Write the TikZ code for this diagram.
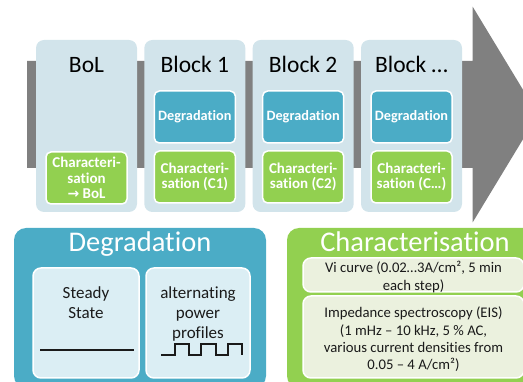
\documentclass[tikz,border=0pt]{standalone}
\usepackage{fontspec}
\setmainfont{Carlito}[Ligatures=NoCommon]
\newfontfamily\symfont{DejaVu Sans}
\definecolor{arrowgray}{HTML}{808080}
\definecolor{blockblue}{HTML}{D2E4EB}
\definecolor{degteal}{HTML}{4BACC6}
\definecolor{chargreen}{HTML}{92D050}
\definecolor{palecyan}{HTML}{DBEEF4}
\definecolor{palegreen}{HTML}{EBF1DE}
\definecolor{inktext}{HTML}{1A1A1A}
\tikzset{
  blockbox/.style={fill=blockblue, draw=none, rounded corners=8pt, inner sep=0pt,
    minimum width=101pt, minimum height=172pt},
  blocktitle/.style={anchor=base, inner sep=0pt, text=black, font=\fontsize{23.5}{26}\selectfont},
  smallbox/.style={draw=white, line width=1.5pt, rounded corners=5pt, inner sep=0pt,
    minimum width=81pt, minimum height=52pt, text=white, align=center},
  degsmall/.style={smallbox, fill=degteal, font=\bfseries\fontsize{14.3}{15}\selectfont},
  charsmall/.style={smallbox, fill=chargreen, font=\bfseries\fontsize{15}{15.5}\selectfont},
  panel/.style={draw=none, rounded corners=12pt, inner sep=0pt, minimum height=160pt},
  paneltitle/.style={anchor=base, inner sep=0pt, text=white, font=\fontsize{28.5}{30}\selectfont},
  subbox/.style={draw=white, line width=1.5pt, rounded corners=8pt, inner sep=0pt},
  subtext/.style={inner sep=0pt, align=center, text=inktext},
  signal/.style={line width=1.3pt, draw=inktext}
}
\begin{document}
\begin{tikzpicture}[x=1pt, y=-1pt]
\useasboundingbox (0,0) rectangle (523,382);
\clip (0,0) rectangle (523,382);

% timeline arrow
\fill[arrowgray] (27,61) -- (472.7,61) -- (472.7,6.7) -- (538,114.5)
  -- (472.7,222.3) -- (472.7,168) -- (27,168) -- cycle;

% blocks along the timeline
\node[blockbox] (b0) at (86.5,126) {};
\node[blockbox] (b1) at (194.83,126) {};
\node[blockbox] (b2) at (303.17,126) {};
\node[blockbox] (b3) at (411.5,126) {};

\node[blocktitle] (t0) at (86.5,73) {BoL};
\node[blocktitle] (t1) at (194.83,73) {Block 1};
\node[blocktitle] (t2) at (303.17,73) {Block 2};
\node[blocktitle] (t3) at (411.5,73) {Block …};

\node[charsmall] (c0) at (86.5,178) {Characteri-\\sation\\{\symfont\fontsize{14}{15}\selectfont →} BoL};

\node[degsmall] (d1) at (194.83,117) {Degradation};
\node[charsmall] (c1) at (194.83,177) {Characteri-\\sation (C1)};
\node[degsmall] (d2) at (303.17,117) {Degradation};
\node[charsmall] (c2) at (303.17,177) {Characteri-\\sation (C2)};
\node[degsmall] (d3) at (411.5,117) {Degradation};
\node[charsmall] (c3) at (411.5,177) {Characteri-\\sation (C…)};

% degradation panel
\node[panel, fill=degteal, minimum width=252pt] (dp) at (140,308) {};
\node[paneltitle] (dpt) at (140,252) {Degradation};
\node[subbox, fill=palecyan, minimum width=106pt, minimum height=110pt] (ss) at (86,323) {};
\node[subbox, fill=palecyan, minimum width=104pt, minimum height=110pt] (ap) at (198,323) {};
\node[subtext, font=\fontsize{17}{20}\selectfont, anchor=north] (sst) at (86,286.5) {Steady\\State};
\node[subtext, font=\fontsize{17}{20}\selectfont, anchor=north] (apt) at (198,286.5) {alternating\\power\\profiles};
\draw[signal] (40,350) -- (134,350);
\draw[signal] (161,355) -- (175,355) -- (175,344) -- (189,344) -- (189,355)
  -- (201,355) -- (201,344) -- (216,344) -- (216,355)
  -- (228,355) -- (228,344) -- (242,344) -- (242,355);

% characterisation panel
\node[panel, fill=chargreen, minimum width=273pt] (cp) at (423.5,308) {};
\node[paneltitle] (cpt) at (415,251.5) {Characterisation};
\node[subbox, fill=palegreen, minimum width=221pt, minimum height=34pt] (vi) at (413.5,275) {};
\node[subbox, fill=palegreen, minimum width=221pt, minimum height=82pt] (eis) at (413.5,337) {};
\node[subtext, font=\fontsize{14.7}{18}\selectfont] (vit) at (413.5,277) {Vi curve (0.02…3A/cm², 5 min\\each step)};
\node[subtext, font=\fontsize{14.7}{17.4}\selectfont] (eist) at (413.5,339.5) {Impedance spectroscopy (EIS)\\(1 mHz – 10 kHz, 5 \% AC,\\various current densities from\\0.05 – 4 A/cm²)};
\end{tikzpicture}
\end{document}
